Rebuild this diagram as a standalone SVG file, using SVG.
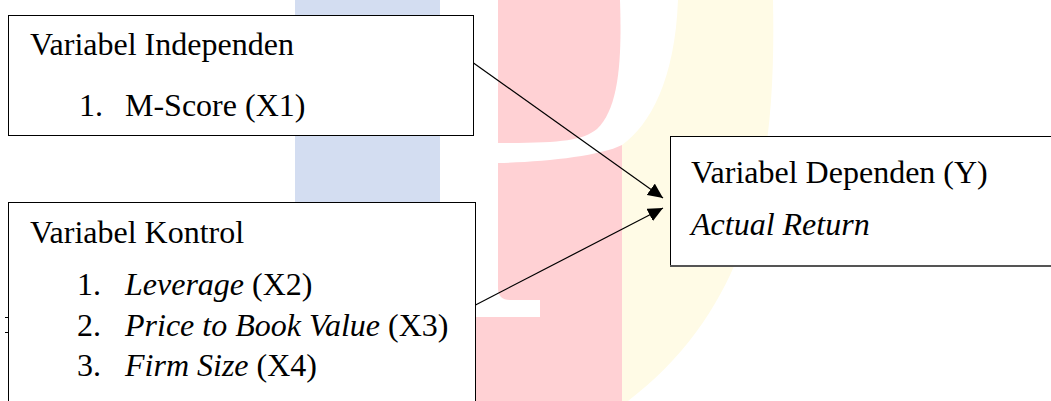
<svg xmlns="http://www.w3.org/2000/svg" width="1051" height="401" viewBox="0 0 1051 401">
  <style>
    .box { fill: #ffffff; stroke: #000000; stroke-width: 1; }
    text { font-family: 'Liberation Serif', 'DejaVu Serif', serif; font-size: 32px; fill: #000000; }
    .i { font-style: italic; }
    .conn { stroke: #000000; stroke-width: 1.2; fill: none; marker-end: url(#arrow); }
  </style>
  <defs>
    <marker id="arrow" markerUnits="userSpaceOnUse" markerWidth="16" markerHeight="14" refX="15" refY="7" orient="auto">
      <path d="M0,0 L15,7 L0,14 Z" fill="#000000"/>
    </marker>
  </defs>
  <rect width="1051" height="401" fill="#ffffff"/>
  <g id="watermark">
    <rect x="295" y="0" width="145" height="203" fill="#d3ddf1"/>
    <path d="M678,0 L773,0 C776,150 760,300 628,401 L622,401 L622,145 C650,125 675,80 678,0 Z" fill="#fffbe6"/>
    <path d="M498,0 L620,0 C622,60 619,108 597,129 C582,141 560,143 498,143 Z" fill="#ffd1d4"/>
    <path d="M498,163 C545,162 600,156 622,145 L622,401 L476,401 L476,317 L540,317 L540,300 L510,300 Q498,300 498,288 Z" fill="#ffd1d4"/>
  </g>
  <g id="node-independen" font-family="Liberation Serif, serif">
    <rect class="box" x="8.5" y="15.5" width="465" height="120"/>
    <text x="30" y="55">Variabel Independen</text>
    <text x="79" y="116">1.</text>
    <text x="125" y="116">M-Score (X1)</text>
  </g>
  <g id="node-kontrol" font-family="Liberation Serif, serif">
    <rect class="box" x="8.5" y="202.5" width="467" height="210" stroke="#333333"/>
    <line x1="5" y1="317.5" x2="8" y2="317.5" stroke="#000000" stroke-width="1"/>
    <line x1="5" y1="332.5" x2="8" y2="332.5" stroke="#000000" stroke-width="1"/>
    <text x="30" y="243">Variabel Kontrol</text>
    <text x="77" y="295">1.</text>
    <text x="125" y="295"><tspan class="i">Leverage</tspan> (X2)</text>
    <text x="77" y="336">2.</text>
    <text x="125" y="336"><tspan class="i">Price to Book Value</tspan> (X3)</text>
    <text x="77" y="376">3.</text>
    <text x="125" y="376"><tspan class="i">Firm Size</tspan> (X4)</text>
  </g>
  <g id="node-dependen" font-family="Liberation Serif, serif">
    <rect class="box" x="670.5" y="136.5" width="400" height="129.5"/>
    <line x1="670" y1="266" x2="1051" y2="266" stroke="#555555" stroke-width="2"/>
    <text x="691" y="183">Variabel Dependen (Y)</text>
    <text class="i" x="691" y="235">Actual Return</text>
  </g>
  <g id="connectors">
    <line class="conn" x1="473.5" y1="63" x2="663" y2="198"/>
    <line class="conn" x1="475.5" y1="305" x2="663" y2="208"/>
  </g>
</svg>
